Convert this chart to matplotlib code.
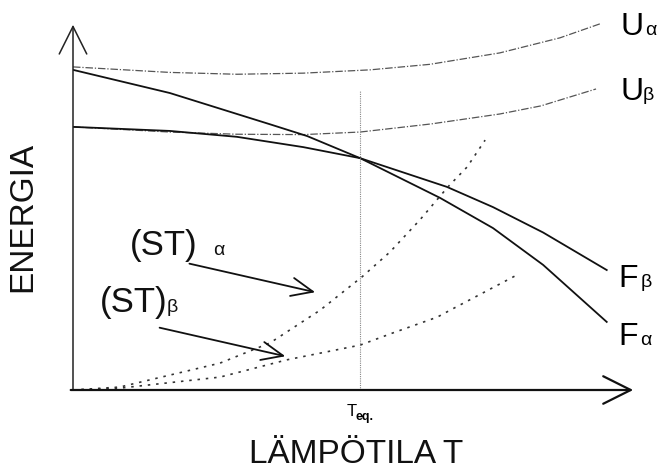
import matplotlib
matplotlib.use("Agg")
import matplotlib.pyplot as plt

plt.rcParams['font.family'] = ['Liberation Sans', 'DejaVu Sans']

# curves (T, energy), schematic units
T_Ua = [0, 1.72, 2.91, 4.09, 5.28, 6.34, 7.58, 8.65, 9.36]
E_Ua = [8.78, 8.63, 8.58, 8.61, 8.70, 8.85, 9.16, 9.57, 9.95]

T_Ub = [0, 1.72, 2.91, 4.09, 5.10, 6.36, 7.58, 8.31, 9.29]
E_Ub = [7.15, 7.01, 6.95, 6.94, 7.01, 7.23, 7.50, 7.72, 8.18]

T_Fa = [0, 1.72, 3.50, 4.16, 5.10, 6.52, 7.46, 8.35, 9.48]
E_Fa = [8.70, 8.07, 7.22, 6.90, 6.30, 5.22, 4.40, 3.40, 1.85]

T_Fb = [0, 1.72, 2.91, 4.09, 5.10, 6.64, 7.46, 8.35, 9.48]
E_Fb = [7.15, 7.04, 6.88, 6.60, 6.30, 5.52, 4.97, 4.28, 3.26]

T_STa = [0, 0.83, 2.61, 3.50, 4.39, 5.13, 5.63, 6.16, 6.66, 7.00, 7.32]
E_STa = [0, 0.08, 0.73, 1.28, 2.17, 3.07, 3.75, 4.62, 5.52, 6.06, 6.79]

T_STb = [0, 0.83, 2.61, 3.80, 5.10, 5.68, 6.47, 6.70, 7.89]
E_STb = [0, 0.05, 0.35, 0.82, 1.22, 1.55, 1.98, 2.17, 3.13]

T_eq = 5.10
T_eq_top = 8.15

fig = plt.figure(figsize=(6.62, 4.72), dpi=100)
ax = fig.add_axes([73/662, 1-390/472, (636-73)/662, (390-22)/472])
ax.set_xlim(0, 10)
ax.set_ylim(0, 10)
ax.axis('off')

ax.plot(T_Ua, E_Ua, color='#555555', lw=0.9, ls=(0, (6, 1.5, 1, 1.5)))
ax.plot(T_Ub, E_Ub, color='#555555', lw=0.9, ls=(0, (6, 1.5, 1, 1.5)))
ax.plot(T_Fa, E_Fa, color='#111111', lw=1.3)
ax.plot(T_Fb, E_Fb, color='#111111', lw=1.3)
ax.plot(T_STa, E_STa, color='#333333', lw=1.2, ls=(0, (1.5, 3.5)))
ax.plot(T_STb, E_STb, color='#333333', lw=1.2, ls=(0, (1.5, 3.5)))
ax.plot([T_eq, T_eq], [0, T_eq_top], color='#888888', lw=0.8, ls=(0, (1, 1)))

# axes with arrows
ax.annotate('', xy=(0, 10), xytext=(0, -0.05), annotation_clip=False,
            arrowprops=dict(arrowstyle='->,head_length=0.9,head_width=0.45',
                            color='#222222', lw=1.1, mutation_scale=22))
ax.annotate('', xy=(10, 0), xytext=(-0.09, 0), annotation_clip=False,
            arrowprops=dict(arrowstyle='->,head_length=0.9,head_width=0.45',
                            color='#111111', lw=1.6, mutation_scale=22))

# (ST) labels and arrows
ax.annotate('', xy=(4.35, 2.64), xytext=(2.02, 3.45),
            arrowprops=dict(arrowstyle='->,head_length=0.7,head_width=0.3',
                            color='#111111', lw=1.3, mutation_scale=22))
ax.annotate('', xy=(3.82, 0.90), xytext=(1.49, 1.71),
            arrowprops=dict(arrowstyle='->,head_length=0.7,head_width=0.3',
                            color='#111111', lw=1.3, mutation_scale=22))

ax.text(1.01, 3.67, '(ST)', fontsize=25, ha='left', va='baseline', color='#111111')
ax.text(2.49, 3.67, 'α', fontsize=14, ha='left', va='baseline', color='#111111')
ax.text(0.48, 2.12, '(ST)', fontsize=25, ha='left', va='baseline', color='#111111')
ax.text(1.67, 2.12, 'β', fontsize=14, ha='left', va='baseline', color='#111111')

# curve labels
ax.text(9.72, 9.65, 'U', fontsize=23, ha='left', va='baseline', clip_on=False)
ax.text(10.16, 9.65, 'α', fontsize=14, ha='left', va='baseline', clip_on=False)
ax.text(9.72, 7.88, 'U', fontsize=23, ha='left', va='baseline', clip_on=False)
ax.text(10.12, 7.88, 'β', fontsize=14, ha='left', va='baseline', clip_on=False)
ax.text(9.69, 2.80, 'F', fontsize=23, ha='left', va='baseline', clip_on=False)
ax.text(10.08, 2.80, 'β', fontsize=14, ha='left', va='baseline', clip_on=False)
ax.text(9.69, 1.22, 'F', fontsize=23, ha='left', va='baseline', clip_on=False)
ax.text(10.08, 1.22, 'α', fontsize=14, ha='left', va='baseline', clip_on=False)

fig.text(23/662, 1-217/472, 'ENERGIA', fontsize=24, rotation=90,
         ha='center', va='center', color='#111111')
fig.text(356/662, 1-463/472, 'LÄMPÖTILA T', fontsize=24,
         ha='center', va='baseline', color='#111111')
fig.text(347/662, 1-416/472, 'T', fontsize=12, ha='left', va='baseline')
fig.text(356/662, 1-420/472, 'eq.', fontsize=9, ha='left', va='baseline',
         fontweight='bold')

fig.savefig('out.png', dpi=100, facecolor='white')
